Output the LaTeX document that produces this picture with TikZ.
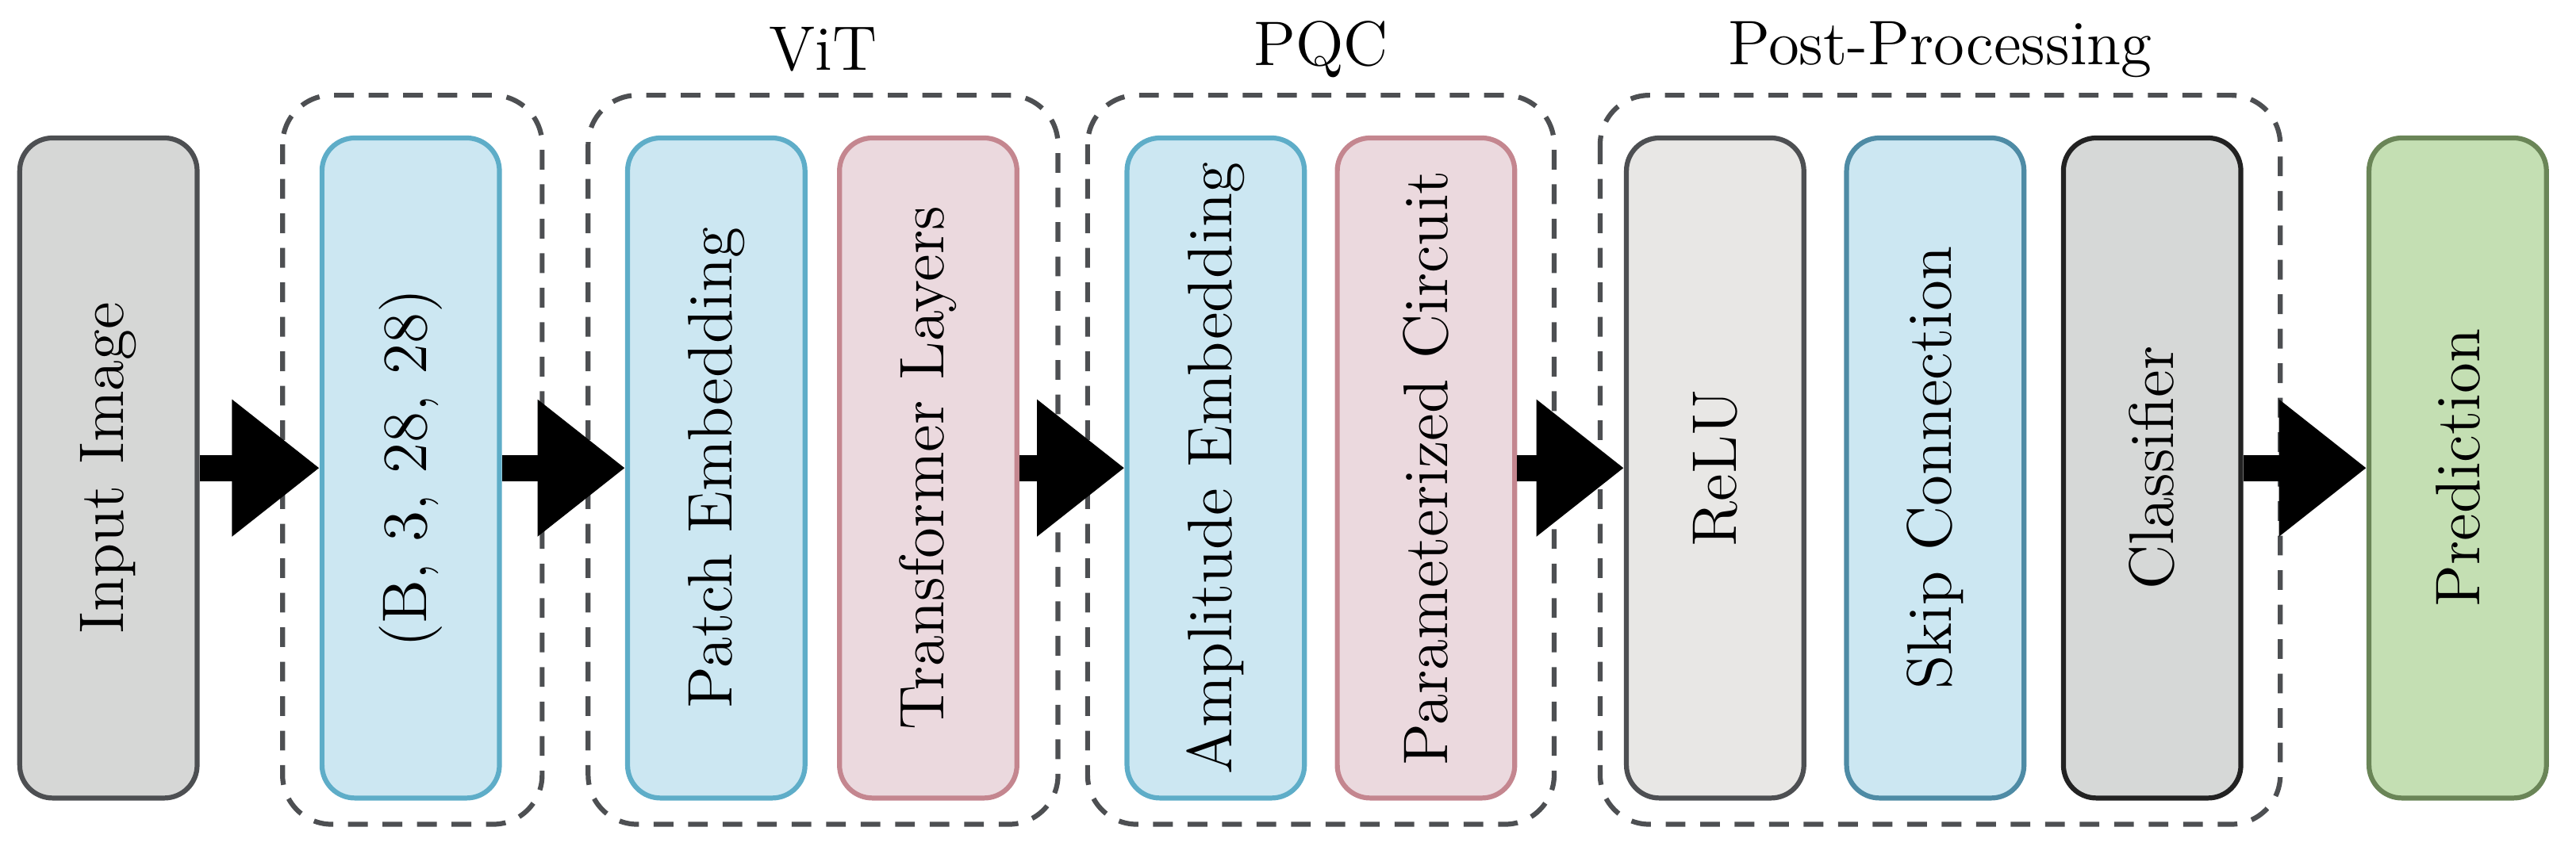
\documentclass[tikz,border=0pt]{standalone}
\usetikzlibrary{arrows.meta}
\definecolor{gS}{HTML}{4D4F52}\definecolor{gF}{HTML}{D6D7D6}
\definecolor{bS}{HTML}{5EADC8}\definecolor{bF}{HTML}{CCE7F2}
\definecolor{pS}{HTML}{C4868F}\definecolor{pF}{HTML}{EBD9DE}
\definecolor{rF}{HTML}{E8E7E5}\definecolor{sS}{HTML}{4E8BA5}
\definecolor{cS}{HTML}{222222}\definecolor{cF}{HTML}{D6D8D7}
\definecolor{prS}{HTML}{6A8557}\definecolor{prF}{HTML}{C4DFB3}
\begin{document}
\begin{tikzpicture}[x=0.3pt,y=-0.3pt,
  box/.style={draw=#1,line width=0.9pt,rounded corners=6pt,minimum width=120.6pt,minimum height=32.4pt,inner sep=0pt,font=\fontsize{11.5}{14}\selectfont,rotate=90},
  grp/.style={draw=gS,line width=0.9pt,dash pattern=on 3.6pt off 2.7pt,rounded corners=9pt},
  ttl/.style={font=\fontsize{11.5}{14}\selectfont},
  arr/.style={line width=4.8pt,-{Triangle[length=16pt,width=24pt]}}]
\useasboundingbox (0,0) rectangle (1568,520);
\draw[grp] (172,58) rectangle (330,502);
\draw[grp] (358,58) rectangle (644,502);
\draw[grp] (662,58) rectangle (946,502);
\draw[grp] (974,58) rectangle (1388,502);
\node[ttl] (tv) at (501,30) {ViT};
\node[ttl] (tp) at (804,30) {PQC};
\node[ttl] (tpp) at (1181,30) {Post-Processing};
\node[box=gS,fill=gF] (in) at (66,285) {Input Image};
\node[box=bS,fill=bF] (sh) at (250,285) {(B, 3, 28, 28)};
\node[box=bS,fill=bF] (pe) at (436,285) {Patch Embedding};
\node[box=pS,fill=pF] (tl) at (565,285) {Transformer Layers};
\node[box=bS,fill=bF] (ae) at (740,285) {Amplitude Embedding};
\node[box=pS,fill=pF] (pc) at (868,285) {Parameterized Circuit};
\node[box=gS,fill=rF] (re) at (1044,285) {ReLU};
\node[box=sS,fill=bF] (sk) at (1178,285) {Skip Connection};
\node[box=cS,fill=cF] (cl) at (1310,285) {Classifier};
\node[box=prS,fill=prF] (pr) at (1496,285) {Prediction};
\draw[arr] (in) -- (sh);
\draw[arr] (sh) -- (pe);
\draw[arr] (tl) -- (ae);
\draw[arr] (pc) -- (re);
\draw[arr] (cl) -- (pr);
\end{tikzpicture}
\end{document}
